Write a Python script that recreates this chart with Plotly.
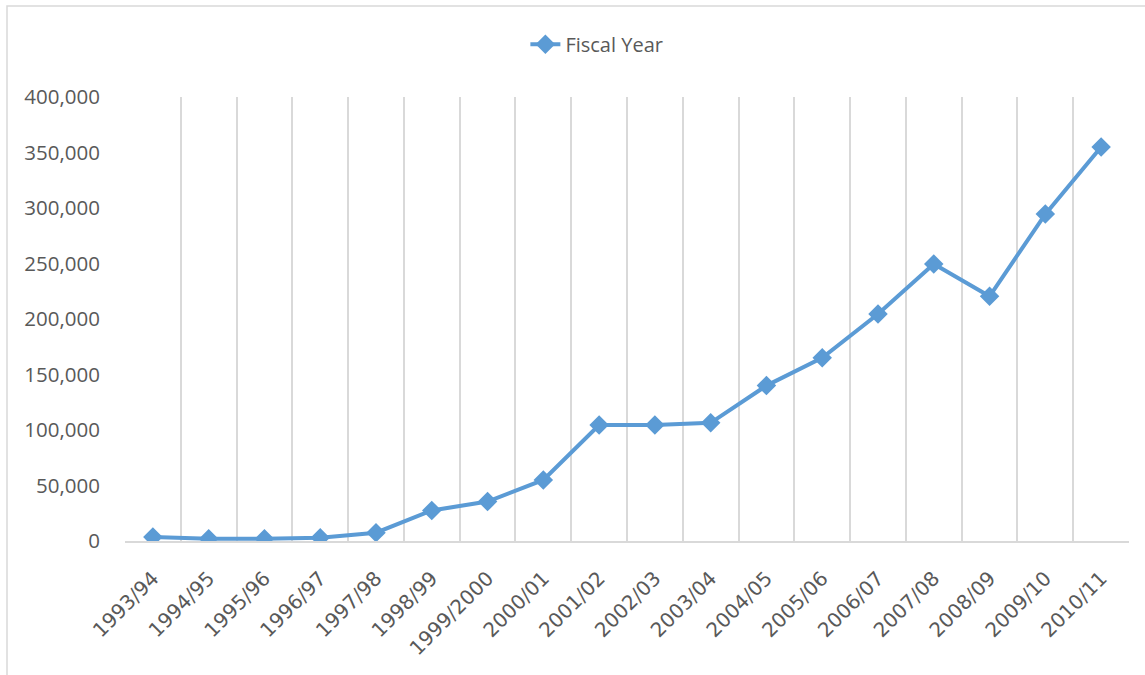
import plotly.graph_objects as go

years = ["1993/94", "1994/95", "1995/96", "1996/97", "1997/98", "1998/99", "1999/2000",
         "2000/01", "2001/02", "2002/03", "2003/04", "2004/05", "2005/06", "2006/07",
         "2007/08", "2008/09", "2009/10", "2010/11"]
values = [3500, 2000, 2000, 3000, 7500, 27500, 35500, 55000, 104500, 104500, 106500,
          140000, 165000, 204500, 249500, 220500, 294500, 355000]
y_ticks = [0, 50000, 100000, 150000, 200000, 250000, 300000, 350000, 400000]

blue = "#5B9BD5"
grid = "#D9D9D9"
txt = "#595959"
font_family = "Open Sans, Noto Sans, sans-serif"

fig = go.Figure()
fig.add_trace(go.Scatter(
    x=years, y=values, name="Fiscal Year", mode="lines+markers",
    line=dict(color=blue, width=4),
    marker=dict(symbol="diamond", size=15, color=blue),
))

fig.update_layout(
    width=1145, height=675,
    margin=dict(l=125, r=16, t=97, b=134),
    paper_bgcolor="white", plot_bgcolor="white",
    font=dict(family=font_family, color=txt, size=20),
    showlegend=True,
    legend=dict(orientation="h", x=0.47, xanchor="center", y=1.119, yanchor="middle",
                font=dict(size=20, color=txt), bgcolor="rgba(0,0,0,0)"),
    xaxis=dict(
        type="category", tickson="boundaries", showgrid=True, gridcolor=grid, gridwidth=1.5,
        showline=True, linecolor=grid, linewidth=1.5,
        ticks="", ticklabelstandoff=16,
        tickangle=-45, tickfont=dict(size=20, color=txt, family="DejaVu Sans, sans-serif"),
        range=[-0.5, 17.5],
    ),
    yaxis=dict(
        range=[0, 400000], tickvals=y_ticks, tickformat=",d",
        showgrid=False, zeroline=False, showline=False,
        ticks="outside", ticklen=20, tickcolor="rgba(0,0,0,0)",
        tickfont=dict(size=20.5, color=txt),
    ),
    shapes=[dict(type="rect", xref="paper", yref="paper",
                 x0=(7 - 125) / 1004, x1=1.05, y0=-0.5, y1=1 + (97 - 6) / 444,
                 line=dict(color=grid, width=1.5), fillcolor="rgba(0,0,0,0)", layer="below")],
)

fig.write_html("out.html")
